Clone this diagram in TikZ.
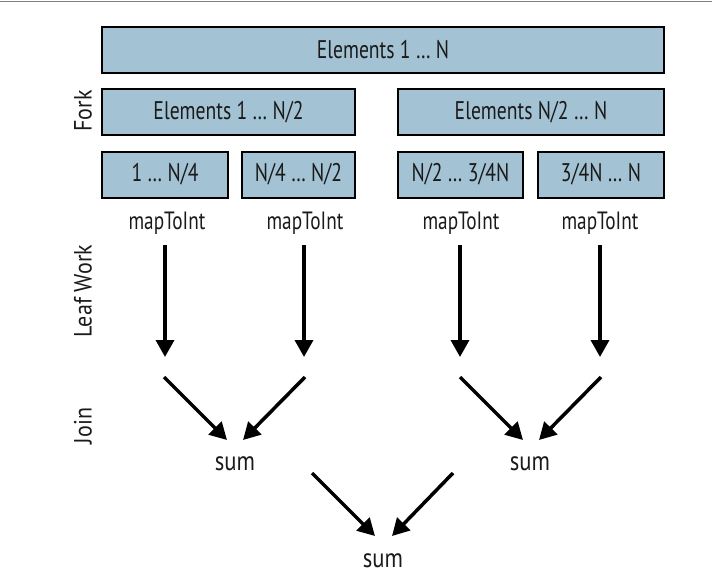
\documentclass[tikz,border=0pt]{standalone}
\usepackage{fontspec}
\setmainfont[FakeStretch=0.77]{PT Sans}
\newfontfamily\sumfont[FakeStretch=0.84]{PT Sans}
\newfontfamily\sidefont[FakeStretch=0.88]{PT Sans}
\usetikzlibrary{arrows.meta}
\definecolor{boxblue}{HTML}{A3C2D3}
\definecolor{txt}{HTML}{1A1A1A}
\begin{document}
\begin{tikzpicture}[x=1pt,y=-1pt,
  box/.style={draw=black, line width=2pt, fill=boxblue, inner sep=0pt,
    minimum height=46pt, text=txt, font=\fontsize{25.5}{30}\selectfont},
  lbl/.style={inner sep=0pt, text=txt, font=\fontsize{25}{30}\selectfont},
  sumlbl/.style={inner sep=0pt, text=txt, font=\sumfont\fontsize{27}{30}\selectfont},
  side/.style={inner sep=0pt, rotate=90, text=txt, font=\sidefont\fontsize{25}{30}\selectfont},
  arr/.style={line width=3.5pt, -{Triangle[length=17pt,width=18pt]}}]
\useasboundingbox (0,0) rectangle (712,584);
\coordinate (rl) at (0,1.5);
\coordinate (rr) at (712,1.5);
\draw[gray, line width=1.5pt] (rl) -- (rr);

% boxes
\node[box, minimum width=562pt] (all) at (383,50) {Elements 1 … N};
\node[box, minimum width=253pt] (fl) at (228.5,112) {Elements 1 … N/2};
\node[box, minimum width=266pt] (fr) at (531,112) {Elements N/2 … N};
\node[box, minimum width=126pt] (qa) at (165,174.5) {1 … N/4};
\node[box, minimum width=113pt] (qb) at (298.5,174.5) {N/4 … N/2};
\node[box, minimum width=125pt] (qc) at (460.5,174.5) {N/2 … 3/4N};
\node[box, minimum width=126pt] (qd) at (601,174.5) {3/4N … N};

% side labels
\node[side] (fork) at (83,111) {Fork};
\node[side] (leaf) at (83,291) {Leaf Work};
\node[side] (join) at (83,426) {Join};

% mapToInt labels
\node[lbl] (m1) at (167,223) {mapToInt};
\node[lbl] (m2) at (305,223) {mapToInt};
\node[lbl] (m3) at (461,223) {mapToInt};
\node[lbl] (m4) at (600,223) {mapToInt};

% sums
\node[sumlbl] (s1) at (235,464) {sum};
\node[sumlbl] (s2) at (530,464) {sum};
\node[sumlbl] (s3) at (383,561) {sum};

% arrow end points
\coordinate (v1a) at (165,245); \coordinate (v1b) at (165,357);
\coordinate (v2a) at (304,245); \coordinate (v2b) at (304,357);
\coordinate (v3a) at (460,245); \coordinate (v3b) at (460,357);
\coordinate (v4a) at (600,245); \coordinate (v4b) at (600,357);
\coordinate (j1a) at (164,377); \coordinate (j1b) at (227,440);
\coordinate (j2a) at (305,377); \coordinate (j2b) at (243,440);
\coordinate (j3a) at (460,377); \coordinate (j3b) at (523,440);
\coordinate (j4a) at (601,377); \coordinate (j4b) at (539,440);
\coordinate (k1a) at (312,473); \coordinate (k1b) at (375,536);
\coordinate (k2a) at (453,473); \coordinate (k2b) at (392,536);

\draw[arr] (v1a) -- (v1b);
\draw[arr] (v2a) -- (v2b);
\draw[arr] (v3a) -- (v3b);
\draw[arr] (v4a) -- (v4b);
\draw[arr] (j1a) -- (j1b);
\draw[arr] (j2a) -- (j2b);
\draw[arr] (j3a) -- (j3b);
\draw[arr] (j4a) -- (j4b);
\draw[arr] (k1a) -- (k1b);
\draw[arr] (k2a) -- (k2b);
\end{tikzpicture}
\end{document}
